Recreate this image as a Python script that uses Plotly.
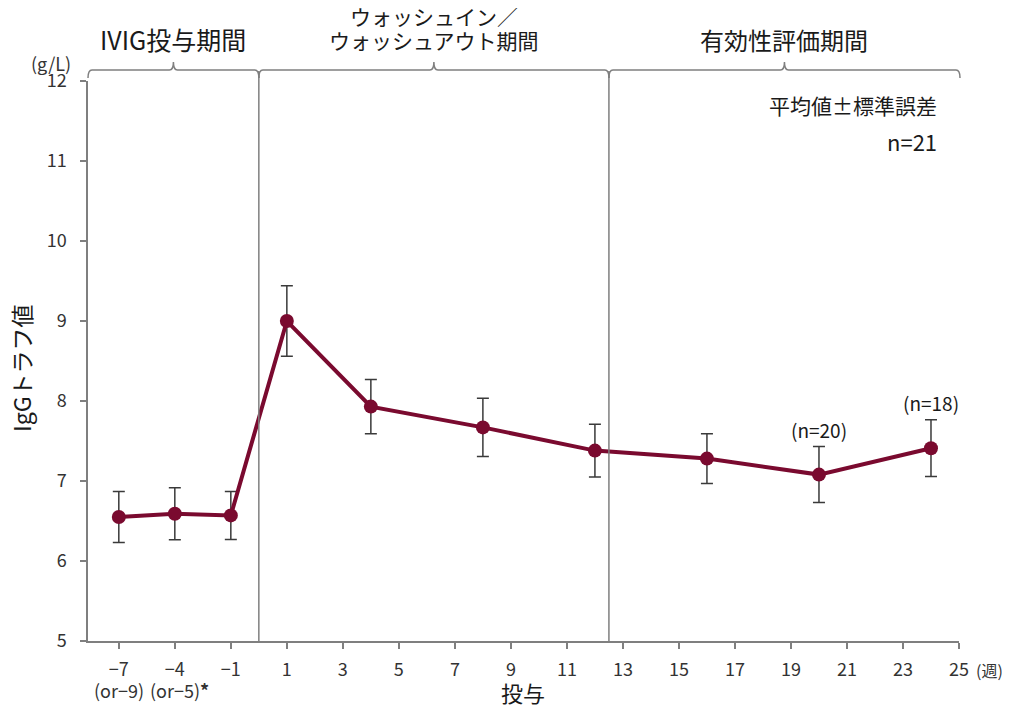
import plotly.graph_objects as go

# ---- data ----
weeks = [-7, -4, -1, 1, 4, 8, 12, 16, 20, 24]
igg_mean = [6.55, 6.59, 6.57, 9.00, 7.93, 7.67, 7.38, 7.28, 7.08, 7.41]
igg_se = [0.32, 0.325, 0.30, 0.44, 0.34, 0.365, 0.33, 0.31, 0.35, 0.355]
tick_weeks = [-7, -4, -1, 1, 3, 5, 7, 9, 11, 13, 15, 17, 19, 21, 23, 25]
tick_labels = ["−7", "−4", "−1", "1", "3", "5", "7", "9", "11", "13", "15", "17", "19", "21", "23", "25"]
y_ticks = [5, 6, 7, 8, 9, 10, 11, 12]
period_bounds = [0.5, 12.5]  # weeks between periods
period_names = [["IVIG投与期間"], ["ウォッシュイン／", "ウォッシュアウト期間"], ["有効性評価期間"]]
n_notes = {20: "(n=20)", 24: "(n=18)"}

FONT = "Noto Sans CJK JP"
LINE_COLOR = "#7a0a2f"
XMIN, XMAX = -0.55, 15
OFF = 8  # page body margin in the browser
W, H = 1010 - OFF, 710 - OFF
ML, MR, MT, MB = 88 - OFF, 51, 81 - OFF, 69
PW, PH = W - ML - MR, H - MT - MB
PL, PB = OFF + ML, OFF + MT + PH  # plot left / bottom in page pixels


def pos(w):
    neg = {-7: 0, -4: 1, -1: 2}
    if w in neg:
        return neg[w]
    return 3 + (w - 1) / 2


def bound_pos(w):
    if w < 1:
        return 2.5
    return pos(w)


def xp(idx):
    return (idx - XMIN) / (XMAX - XMIN)


def yp_px(py):
    # page pixel y -> paper coordinate
    return (PB - py) / PH


def xp_px(px):
    # page pixel x -> paper coordinate
    return (px - PL) / PW


def dx(px):
    return px / PW


xs = [pos(w) for w in weeks]

fig = go.Figure()
fig.add_trace(go.Scatter(
    x=xs, y=igg_mean, mode="lines+markers",
    line=dict(color=LINE_COLOR, width=4),
    marker=dict(color=LINE_COLOR, size=14),
    error_y=dict(type="data", array=igg_se, color="#3a3a3a", thickness=1.5, width=6),
    showlegend=False, cliponaxis=False,
))

shapes = []
bx = [bound_pos(b) for b in period_bounds]
# vertical separators
for b in bx:
    shapes.append(dict(type="line", xref="paper", yref="paper", x0=xp(b), x1=xp(b),
                       y0=0, y1=yp_px(71), line=dict(color="#7f7f7f", width=1.5)))

# brackets
edges = [0.0] + [xp(b) for b in bx] + [xp(XMAX) + dx(1)]
yb, ye, yc = yp_px(70), yp_px(78), yp_px(62)
r = dx(4)
for i in range(3):
    a, b = edges[i], edges[i + 1]
    c = (a + b) / 2
    path = (f"M {a},{ye} Q {a},{yb} {a + r},{yb} L {c - r},{yb} Q {c},{yb} {c},{yc} "
            f"Q {c},{yb} {c + r},{yb} L {b - r},{yb} Q {b},{yb} {b},{ye}")
    shapes.append(dict(type="path", xref="paper", yref="paper", path=path,
                       line=dict(color="#7f7f7f", width=1.5)))

annotations = []
header_sizes = [25, 21, 24]
for i, lines in enumerate(period_names):
    c = (edges[i] + edges[i + 1]) / 2
    ys = [39] if len(lines) == 1 else [16, 40]
    for line, ypx in zip(lines, ys):
        annotations.append(dict(xref="paper", yref="paper", x=c, y=yp_px(ypx),
                                text=line, showarrow=False, xanchor="center", yanchor="middle",
                                font=dict(family=FONT, size=header_sizes[i], color="#1a1a1a")))

annotations += [
    dict(xref="paper", yref="paper", x=xp_px(939), y=yp_px(105), text="平均値±標準誤差",
         showarrow=False, xanchor="right", yanchor="middle", font=dict(family=FONT, size=21, color="#1a1a1a")),
    dict(xref="paper", yref="paper", x=xp_px(939), y=yp_px(141), text="n=21",
         showarrow=False, xanchor="right", yanchor="middle", font=dict(family=FONT, size=22, color="#1a1a1a")),
    dict(xref="paper", yref="paper", x=xp_px(51), y=yp_px(63), text="(g/L)",
         showarrow=False, xanchor="center", yanchor="middle", font=dict(family=FONT, size=18, color="#333333")),
    dict(xref="paper", yref="paper", x=xp_px(21), y=yp_px(368), text="IgGトラフ値", textangle=-90,
         showarrow=False, xanchor="center", yanchor="middle", font=dict(family=FONT, size=23, color="#1a1a1a")),
    dict(xref="paper", yref="paper", x=xp_px(523), y=yp_px(692), text="投与",
         showarrow=False, xanchor="center", yanchor="middle", font=dict(family=FONT, size=22, color="#1a1a1a")),
    dict(xref="paper", yref="paper", x=xp_px(974), y=yp_px(670), text="(週)",
         showarrow=False, xanchor="left", yanchor="middle", font=dict(family=FONT, size=16, color="#333333")),
    dict(xref="x", yref="paper", x=pos(-7), y=yp_px(690), text="(or−9)",
         showarrow=False, xanchor="center", yanchor="middle", font=dict(family=FONT, size=18, color="#333333")),
    dict(xref="x", yref="paper", x=pos(-4), y=yp_px(690), text="(or−5)<b>*</b>", xshift=5,
         showarrow=False, xanchor="center", yanchor="middle", font=dict(family=FONT, size=18, color="#333333")),
]
for w, t in n_notes.items():
    i = weeks.index(w)
    annotations.append(dict(xref="x", yref="y", x=pos(w), y=igg_mean[i] + igg_se[i], text=t,
                            showarrow=False, xanchor="center", yanchor="bottom", yshift=2,
                            font=dict(family=FONT, size=19, color="#1a1a1a")))

fig.update_layout(
    width=W, height=H, margin=dict(l=ML, r=MR, t=MT, b=MB, autoexpand=False),
    paper_bgcolor="white", plot_bgcolor="white",
    shapes=shapes, annotations=annotations,
    font=dict(family=FONT, color="#333333"),
    xaxis=dict(range=[XMIN, XMAX], tickvals=[pos(w) for w in tick_weeks],
               ticktext=tick_labels, ticks="outside", ticklen=6, tickwidth=1.5, tickcolor="#7f7f7f",
               showline=True, linecolor="#7f7f7f", linewidth=1.5, showgrid=False, zeroline=False,
               automargin=False,
               tickfont=dict(family=FONT, size=18, color="#333333"), ticklabelstandoff=6),
    yaxis=dict(range=[5, 12], tickvals=y_ticks, ticks="outside", ticklen=6, tickwidth=1.5,
               tickcolor="#7f7f7f", showline=True, linecolor="#7f7f7f", linewidth=1.5,
               showgrid=False, zeroline=False, automargin=False,
               tickfont=dict(family=FONT, size=18, color="#333333"),
               ticklabelstandoff=10),
)

fig.write_html("out.html")
